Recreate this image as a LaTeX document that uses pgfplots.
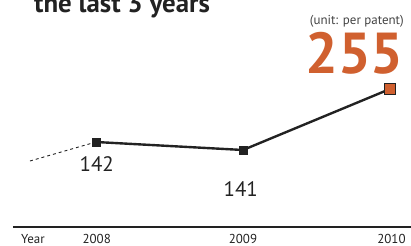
\documentclass[border=0pt]{standalone}
\usepackage{pgfplots}
\pgfplotsset{compat=1.18}
\usepackage{fontspec}
\setmainfont{PT Sans}
\definecolor{orangeR}{HTML}{D0602F}
\definecolor{darkline}{HTML}{222222}
\begin{document}
\begin{tikzpicture}[x=1bp,y=1bp]
\useasboundingbox (0,0) rectangle (411bp,246bp);
\begin{axis}[
  at={(0,0)}, anchor=south west,
  scale only axis, width=411bp, height=246bp,
  xmin=2007.347, xmax=2010.143, ymin=0, ymax=246,
  hide axis, clip=false,
]
% baseline
\draw[darkline, line width=1.3pt] (axis cs:2007.435,19) -- (axis cs:2010.143,19);
% dashed lead-in
\addplot[darkline, dashed, line width=0.9pt, forget plot] coordinates {(2007.551,85) (2008,104)};
% main series (plot positions; printed values in brackets)
\addplot[darkline, line width=2.4pt, mark=square*, mark size=4bp, mark options={fill=darkline, line width=0.5pt},
  point meta=explicit symbolic] coordinates {
  (2008,104) [142]
  (2009,96) [141]
};
\addplot[darkline, line width=2.4pt, forget plot] coordinates {(2009,96) (2010,157)};
\addplot[only marks, mark=square*, mark size=5.5bp, mark options={fill=orangeR, draw=darkline, line width=1.6pt}] coordinates {(2010,157) [255]};
% value labels
\node[anchor=base, font=\fontsize{21}{21}\selectfont, text=darkline] at (axis cs:2008.005,74) {142};
\node[anchor=base, font=\fontsize{21}{21}\selectfont, text=darkline] at (axis cs:2008.985,49) {141};
\node[anchor=base east, font=\fontsize{58}{58}\selectfont\bfseries, text=orangeR, inner sep=0pt] at (axis cs:2010.095,172) {255};
\node[anchor=base east, font=\fontsize{13}{13}\selectfont, text=darkline!85, inner sep=0pt] at (axis cs:2010.095,221) {(unit: per patent)};
% title (cut at top, as in the reference)
\node[anchor=base west, font=\fontsize{27}{27}\selectfont\bfseries, text=darkline, inner sep=0pt] at (axis cs:2007.578,233) {the last 3 years};
% tick labels
\node[anchor=base west, font=\fontsize{13}{13}\selectfont, text=darkline, inner sep=0pt] at (axis cs:2007.49,3) {Year};
\node[anchor=base, font=\fontsize{13}{13}\selectfont, text=darkline, inner sep=0pt] at (axis cs:2008.005,3) {2008};
\node[anchor=base, font=\fontsize{13}{13}\selectfont, text=darkline, inner sep=0pt] at (axis cs:2009.0,3) {2009};
\node[anchor=base, font=\fontsize{13}{13}\selectfont, text=darkline, inner sep=0pt] at (axis cs:2010.01,3) {2010};
\end{axis}
\end{tikzpicture}
\end{document}
